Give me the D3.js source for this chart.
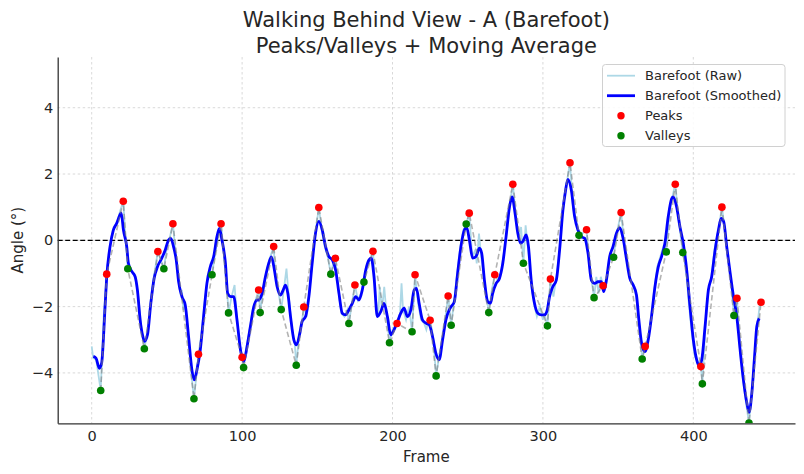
<!DOCTYPE html>
<html>
<head>
<meta charset="utf-8">
<script src="https://cdn.jsdelivr.net/npm/d3@7"></script>
<style>
  body { margin: 0; background: #fff; }
  svg { font-family: "DejaVu Sans", sans-serif; }
</style>
</head>
<body>
<svg id="chart"></svg>
<script>
// Glattet kurve (moving average)
const smoothFrames = [1.1,2.9,5.1,6.6,8.9,10,12.2,14.4,16.6,18.9,19.6,21.1,23.3,24.4,26.7,28.9,30.4,32.2,34,35.1,37.1,39.3,41.5,43.8,46.6,48.9,51.1,52.6,54.4,56.2,57.8,60,62.2,64.4,66.6,68.2,70,72.2,74.4,76.6,78.9,81.1,83.3,84.9,86.6,88.9,90.4,92.6,94.4,96.6,98.9,101.1,103.3,105.5,107.8,110,111,113.3,115.5,117.7,119.5,121.5,123.3,125.5,127.3,128.8,130.4,132.2,134.4,136.2,138.4,139.9,142.2,144.4,146.6,148.8,151,153.3,155.5,157.7,160,162.2,164.4,166.6,168.8,171,173.3,175.5,177.7,179.9,182.2,184.4,185.9,187.7,189.9,192.2,194.4,196.6,198.8,201,203.3,205.5,207.7,209.9,212.2,214.4,215.9,217.7,219.9,222.2,224.4,226.6,228.8,231,233.3,235.5,237.7,239,241.1,243.3,245.5,247.8,249.3,251.1,253.3,255.5,257.8,259.3,261.1,263.3,265.1,266.6,268.9,271.1,273.3,275.5,277.8,279.5,281.5,283.3,285.1,286.6,288.9,290.4,292.2,294.4,296.6,298.9,301.1,302.9,304.4,306.6,308.9,311.1,313.3,314.9,316.6,318.9,321.1,323.3,325.5,327.8,330,332.2,334.4,336.6,338.9,340.4,342.2,344.4,346.6,348.9,351.1,353.3,355.5,357.8,360,362.2,363.8,365.6,367.8,370,372.2,374.5,376.7,378.9,381.1,383.3,385.6,386.7,388.9,391.1,393.3,395.6,397.8,400,402.2,403.8,405.6,407.8,410,412.2,414.5,416.7,418.5,420.2,422.2,424.5,426.7,428.9,431.1,433.3,435.6,437.1,438.9,440.7,442.2,443.8];
const smoothValues = [-3.5,-3.56,-3.86,-3.71,-2.0,-1.1,-0.19,0.31,0.51,0.78,0.83,0.31,-0.19,-0.69,-0.94,-1.1,-1.5,-2.4,-2.9,-3.05,-2.85,-1.9,-1.15,-0.79,-0.54,-0.29,0.01,0.06,-0.19,-0.59,-1.25,-1.7,-1.95,-2.9,-3.9,-4.21,-3.9,-3.3,-2.3,-1.3,-0.79,-0.49,0.11,0.36,0.01,-0.69,-1.6,-1.7,-1.7,-2.4,-3.3,-3.66,-3.2,-2.6,-2.0,-1.8,-1.8,-1.6,-1.1,-0.7,-0.5,-0.9,-1.4,-1.65,-1.5,-1.35,-1.6,-2.3,-3.0,-3.15,-2.8,-2.45,-2.3,-1.7,-0.69,0.21,0.57,0.31,-0.19,-0.49,-0.59,-0.9,-1.6,-2.2,-2.25,-2.1,-1.9,-1.7,-1.8,-1.5,-0.9,-0.59,-0.54,-1.1,-2.3,-2.15,-1.9,-2.3,-2.85,-2.7,-2.45,-2.2,-2.05,-2.3,-2.1,-1.5,-1.45,-1.9,-2.4,-2.5,-2.55,-2.9,-3.4,-3.6,-3.0,-2.4,-2.1,-2.0,-1.85,-0.99,-0.19,0.31,0.39,0.01,-0.54,-0.49,-0.24,-0.39,-1.2,-1.85,-1.9,-1.6,-1.3,-1.15,-0.7,0.11,1.01,1.31,0.81,0.21,-0.09,-0.04,0.16,-0.19,-1.2,-1.9,-2.2,-2.25,-2.25,-2.1,-1.7,-1.4,-1.2,-0.29,0.91,1.46,1.84,1.51,0.71,0.31,0.11,0.06,-0.39,-1.2,-1.3,-1.25,-1.25,-1.55,-1.2,-0.49,-0.19,0.21,0.38,0.06,-0.55,-1.15,-1.35,-1.65,-2.4,-3.1,-3.36,-3.0,-2.3,-1.4,-0.8,-0.49,-0.09,0.71,1.26,1.31,1.01,0.41,-0.09,-0.9,-2.0,-3.0,-3.6,-3.79,-3.6,-2.6,-1.5,-1.1,-0.29,0.31,0.66,0.56,-0.19,-0.99,-1.7,-2.3,-3.3,-4.21,-4.91,-5.19,-4.61,-3.51,-2.6,-2.35];

// Rå signal
const rawFrames = [0,1,3,6,8,10,12,14,17,19,21,22,24,27,29,31,33,35,37,39,41,44,46,48,50,52,54,56,58,59,60,61,62,64,66,68,70,71,73,75,77,80,82,84,86,88,90,91,93,95,96,98,100,101,103,105,107,109,111,112,114,116,118,121,122,124,126,128,129.5,131,133,135,136,138,140,141,143,145,147,149,151,153,155,157,159,161,162,164,166,168,170,171,173,175,177,179,181,183,185,187,189,190.5,191.5,193,194.5,196,198,200,203,205,206,207,209,211,213,215,217,219,221,222.5,224,225,227,229,231,233,235,237,239,241,243,245,247,249,251,253,255,256,257.5,259,261,264,266,268,270,272,274,276,278,280,282,284,285.5,287,288.5,290,292,294,296,298,300,301,303,305,307,309,311,313,315,318,320,322,324,326,329,331,334,335.5,337,338.5,340,342,344,347,349,352,354,356,358,360,362,364,366,368,370,372,374,376,378,380,382,384,386,388,390,393,395,397,399,401,405,406,408,410,412,414,417,419,421,423,425,427,429,431,433,435,437,439,441,443,444,445];
const rawValues = [-3.2,-3.55,-3.6,-4.53,-2.3,-1.02,-0.2,0.3,0.55,0.9,1.18,0.4,-0.86,-0.95,-1.1,-1.7,-2.6,-3.27,-2.8,-1.9,-1.2,-0.34,-0.6,-0.86,-0.2,0.1,0.5,-0.5,-1.3,-1.6,-1.55,-2.1,-1.9,-2.8,-3.9,-4.78,-3.9,-3.44,-2.8,-1.9,-1.2,-1.04,-0.4,0.1,0.5,-0.5,-1.5,-2.19,-1.7,-1.35,-2.0,-3.0,-3.53,-3.84,-3.2,-2.7,-2.1,-1.8,-1.5,-2.18,-1.5,-1.0,-0.6,-0.19,-1.0,-1.5,-2.09,-1.4,-0.85,-1.7,-2.6,-3.1,-3.77,-2.8,-2.4,-2.01,-2.3,-1.4,-0.5,0.3,0.99,0.3,-0.2,-0.5,-1.02,-0.6,-0.54,-1.5,-2.2,-2.3,-2.1,-2.51,-1.9,-1.35,-1.8,-1.6,-1.26,-0.8,-0.6,-0.33,-1.8,-2.3,-1.4,-2.1,-1.4,-2.2,-3.09,-2.7,-2.51,-2.2,-1.3,-2.1,-2.4,-2.0,-2.76,-1.04,-1.9,-2.4,-2.5,-2.7,-2.4,-2.41,-2.9,-4.09,-3.5,-3.0,-2.4,-1.68,-2.56,-1.8,-1.0,-0.2,0.3,0.49,0.82,-0.5,-0.3,-0.7,0.2,-0.5,-1.2,-2.18,-1.5,-1.04,-1.2,-1.0,-0.4,0.3,1.1,1.69,0.7,0.1,0.4,-0.69,0.45,-0.2,-1.2,-1.9,-2.3,-2.0,-2.4,-2.2,-2.58,-1.17,-1.7,-1.1,-0.3,0.9,1.5,2.34,1.0,0.6,0.15,0.2,0.32,-0.8,-1.73,-1.1,-1.6,-1.1,-1.37,-1.4,-0.6,-0.51,0.2,0.84,-0.1,-0.7,-1.2,-1.3,-1.7,-2.5,-3.58,-3.2,-3.0,-2.3,-1.5,-0.8,-0.5,-0.2,-0.35,0.8,1.3,1.69,0.7,-0.37,-0.8,-1.9,-2.8,-3.5,-3.81,-4.33,-2.6,-1.5,-1.1,-0.3,0.4,1.0,0.3,-0.5,-1.2,-2.27,-1.75,-3.3,-4.2,-4.9,-5.51,-4.5,-3.4,-2.4,-2.0,-1.87];

// Toppe og dale
const peakFrames = [10,21,44,54,71,86,100,111,121,141,151,162,175,187,203,215,225,237,251,268,280,305,318,329,340,352,368,388,405,419,429,445];
const peakValues = [-1.02,1.18,-0.34,0.50,-3.44,0.50,-3.53,-1.50,-0.19,-2.01,0.99,-0.54,-1.35,-0.33,-2.51,-1.04,-2.41,-1.68,0.82,-1.04,1.69,-1.17,2.34,0.32,-1.37,0.84,-3.20,1.69,-3.81,1.00,-1.75,-1.87];
const valleyFrames = [6,24,35,48,68,80,91,101,112,126,136,159,171,181,198,213,229,239,249,264,287,303,324,334,347,366,382,393,406,427,437];
const valleyValues = [-4.53,-0.86,-3.27,-0.86,-4.78,-1.04,-2.19,-3.84,-2.18,-2.09,-3.77,-1.02,-2.51,-1.26,-3.09,-2.76,-4.09,-2.56,0.49,-2.18,-0.69,-2.58,0.15,-1.73,-0.51,-3.58,-0.35,-0.37,-4.33,-2.27,-5.51];

// Akse-ticks
const xTicks = [0, 100, 200, 300, 400];
const yTicks = [-4, -2, 0, 2, 4];

// Margener og tegneområde
const W = 804, H = 474;
const margin = { top: 57, right: 9, bottom: 50.7, left: 57.7 },
      width = W - margin.left - margin.right,
      height = H - margin.top - margin.bottom;

const svgRoot = d3.select("#chart").attr("width", W).attr("height", H);
const svg = svgRoot.append("g")
  .attr("transform", `translate(${margin.left},${margin.top})`);

// Skalaer
const x = d3.scaleLinear().domain([-22.6, 467.6]).range([0, width]);
const y = d3.scaleLinear().domain([-5.52, 5.53]).range([height, 0]);

// Clip så markører ikke går udenfor
svgRoot.append("defs").append("clipPath").attr("id", "plotClip")
  .append("rect").attr("width", width).attr("height", height);

// Gitter
svg.append("g").selectAll("line").data(xTicks).join("line")
  .attr("x1", d => x(d)).attr("x2", d => x(d))
  .attr("y1", 0).attr("y2", height)
  .attr("stroke", "#cfcfcf").attr("stroke-width", 0.8).attr("stroke-dasharray", "2.5,2.5");
svg.append("g").selectAll("line").data(yTicks).join("line")
  .attr("x1", 0).attr("x2", width)
  .attr("y1", d => y(d)).attr("y2", d => y(d))
  .attr("stroke", "#cfcfcf").attr("stroke-width", 0.8).attr("stroke-dasharray", "2.5,2.5");

// Nul-linje
svg.append("line")
  .attr("x1", 0).attr("x2", width)
  .attr("y1", y(0)).attr("y2", y(0))
  .attr("stroke", "#000").attr("stroke-width", 1.3).attr("stroke-dasharray", "5,2.5");

const plot = svg.append("g").attr("clip-path", "url(#plotClip)");

// Rå linje
const rawData = rawFrames.map((f, i) => [f, rawValues[i]]);
plot.append("path")
  .datum(rawData)
  .attr("fill", "none")
  .attr("stroke", "#add8e6")
  .attr("stroke-width", 1.8)
  .attr("d", d3.line().x(d => x(d[0])).y(d => y(d[1])));

// Glattet linje
const smoothData = smoothFrames.map((f, i) => [f, smoothValues[i]]);
plot.append("path")
  .datum(smoothData)
  .attr("fill", "none")
  .attr("stroke", "#0000ff")
  .attr("stroke-width", 2.8)
  .attr("stroke-linejoin", "round")
  .attr("d", d3.line().curve(d3.curveMonotoneX).x(d => x(d[0])).y(d => y(d[1])));

// Stiplet linje gennem toppe og dale i rækkefølge
const extrema = peakFrames.map((f, i) => [f, peakValues[i]])
  .concat(valleyFrames.map((f, i) => [f, valleyValues[i]]))
  .sort((a, b) => a[0] - b[0]);
plot.append("path")
  .datum(extrema)
  .attr("fill", "none")
  .attr("stroke", "#808080")
  .attr("stroke-opacity", 0.6)
  .attr("stroke-width", 1.6)
  .attr("stroke-dasharray", "5.5,3")
  .attr("d", d3.line().x(d => x(d[0])).y(d => y(d[1])));

// Toppe (røde) og dale (grønne)
plot.append("g").selectAll("circle").data(peakFrames).join("circle")
  .attr("cx", d => x(d)).attr("cy", (d, i) => y(peakValues[i]))
  .attr("r", 3.8).attr("fill", "#ff0000");
plot.append("g").selectAll("circle").data(valleyFrames).join("circle")
  .attr("cx", d => x(d)).attr("cy", (d, i) => y(valleyValues[i]))
  .attr("r", 3.8).attr("fill", "#008000");

// Akser (kun venstre og bund)
const xAxis = svg.append("g").attr("transform", `translate(0,${height})`)
  .call(d3.axisBottom(x).tickValues(xTicks).tickSize(0).tickPadding(7));
const yAxis = svg.append("g")
  .call(d3.axisLeft(y).tickValues(yTicks).tickSize(0).tickPadding(4.5).tickFormat(d3.format("d")));
[xAxis, yAxis].forEach(a => {
  a.select(".domain").attr("stroke", "#333").attr("stroke-width", 1.3);
  a.selectAll("text").attr("fill", "#262626").style("font-size", "14.5px")
    .style("font-family", "DejaVu Sans, sans-serif");
});

// Titel og aksetekster
svgRoot.append("text").attr("x", margin.left + width / 2).attr("y", 26.5)
  .attr("text-anchor", "middle").attr("fill", "#262626").style("font-size", "21px")
  .text("Walking Behind View - A (Barefoot)");
svgRoot.append("text").attr("x", margin.left + width / 2).attr("y", 53)
  .attr("text-anchor", "middle").attr("fill", "#262626").style("font-size", "21px")
  .text("Peaks/Valleys + Moving Average");
svgRoot.append("text").attr("x", margin.left + width / 2).attr("y", 461.5)
  .attr("text-anchor", "middle").attr("fill", "#262626").style("font-size", "15px")
  .text("Frame");
svgRoot.append("text")
  .attr("transform", `translate(23,${margin.top + height / 2}) rotate(-90)`)
  .attr("text-anchor", "middle").attr("fill", "#262626").style("font-size", "15px")
  .text("Angle (°)");

// Legende
const legendItems = [
  { label: "Barefoot (Raw)", type: "line", color: "#add8e6", w: 1.8 },
  { label: "Barefoot (Smoothed)", type: "line", color: "#0000ff", w: 2.8 },
  { label: "Peaks", type: "dot", color: "#ff0000" },
  { label: "Valleys", type: "dot", color: "#008000" }
];
const legend = svgRoot.append("g").attr("transform", "translate(602.5,64.5)");
legend.append("rect")
  .attr("width", 182.5).attr("height", 82)
  .attr("rx", 3).attr("fill", "#fff").attr("fill-opacity", 0.85)
  .attr("stroke", "#d0d0d0").attr("stroke-width", 1);
const rows = legend.selectAll("g.item").data(legendItems).join("g")
  .attr("class", "item")
  .attr("transform", (d, i) => `translate(0,${11.2 + i * 20})`);
rows.filter(d => d.type === "line").append("line")
  .attr("x1", 4.5).attr("x2", 32.5).attr("y1", 0).attr("y2", 0)
  .attr("stroke", d => d.color).attr("stroke-width", d => d.w);
rows.filter(d => d.type === "dot").append("circle")
  .attr("cx", 18.5).attr("cy", 0).attr("r", 3.7).attr("fill", d => d.color);
rows.append("text")
  .attr("x", 42.5).attr("y", 0).attr("dy", "0.35em")
  .attr("fill", "#262626").style("font-size", "13px")
  .text(d => d.label);
</script>
</body>
</html>
